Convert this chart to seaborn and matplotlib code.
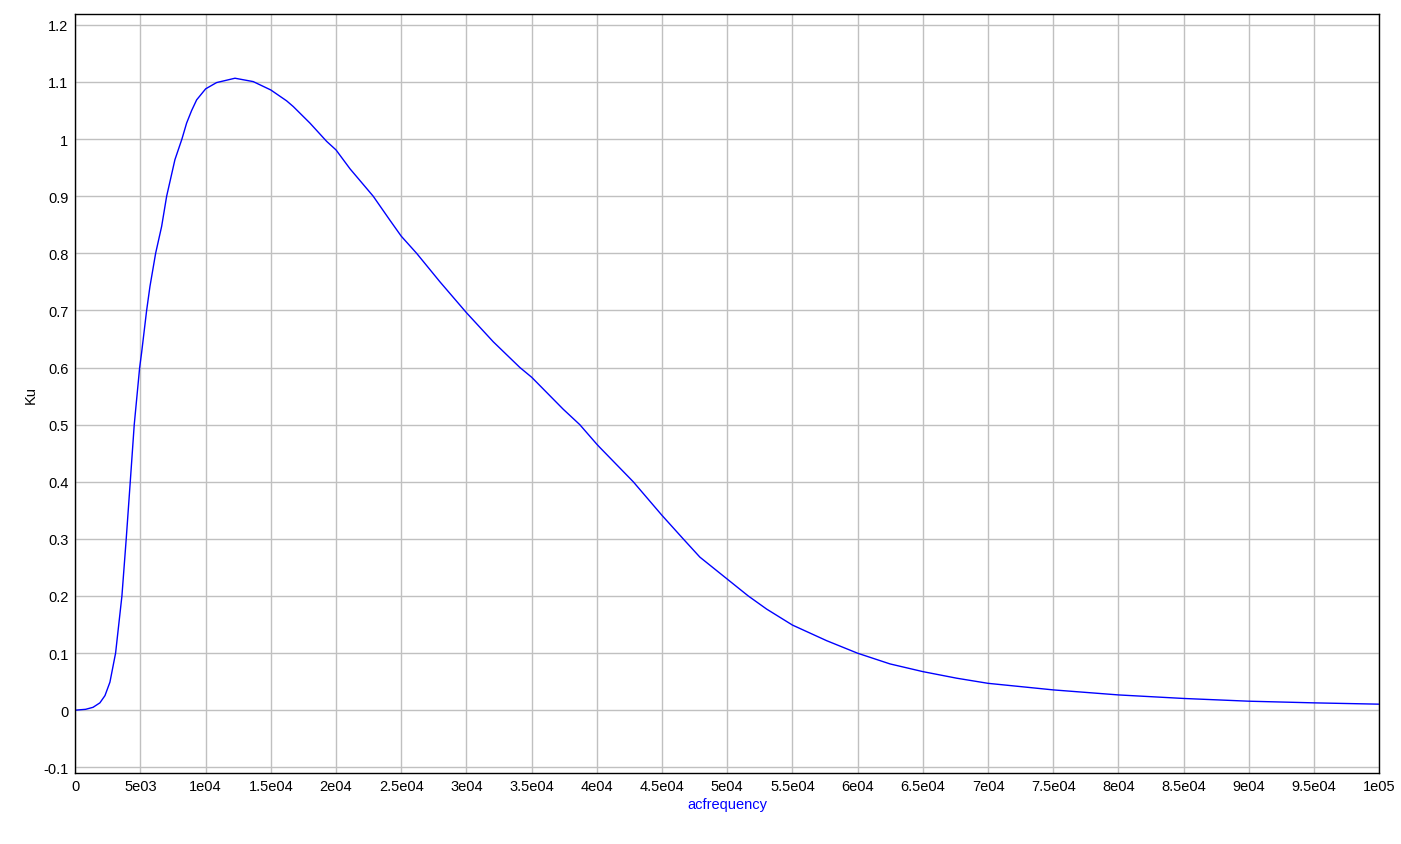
import numpy as np
import pandas as pd
import matplotlib
matplotlib.use('Agg')
import matplotlib.pyplot as plt
import seaborn as sns

# valores (acfrequency em Hz, Ku)
freq = [0, 800, 1365, 1890, 2280, 2660, 3095, 3580, 3910, 4220, 4525, 4940,
        5090, 5475, 5730, 6165, 6625, 7010, 7645, 8180, 8540, 8925, 9310,
        10000, 10840, 12250, 13650, 15000, 16210, 16720, 18000, 19280,
        20000, 21070, 22850, 24130, 25000, 26180, 27970, 30000, 32060,
        34100, 35000, 37420, 38690, 40000, 40240, 42790, 45000, 46620,
        47900, 50000, 51610, 53020, 55000, 57620, 60000, 62480, 65000,
        67590, 70000, 75000, 80000, 85000, 90000, 95000, 100000]
ku = [0.0, 0.0015, 0.005, 0.0128, 0.0255, 0.049, 0.1, 0.2, 0.3, 0.4, 0.5, 0.6,
      0.626, 0.7, 0.742, 0.8, 0.847, 0.9, 0.964, 1.0, 1.028, 1.05, 1.0687,
      1.088, 1.099, 1.1066, 1.1007, 1.086, 1.067, 1.057, 1.028, 0.996,
      0.981, 0.948, 0.9, 0.858, 0.83, 0.8, 0.750, 0.696, 0.645,
      0.6, 0.583, 0.527, 0.5, 0.4656, 0.4598, 0.4, 0.341, 0.3,
      0.268, 0.2295, 0.2, 0.177, 0.149, 0.1217, 0.0997, 0.081, 0.0675,
      0.056, 0.047, 0.0355, 0.0267, 0.0205, 0.0157, 0.0128, 0.0105]

xticks = np.arange(0, 100001, 5000)
xlabels = ['0', '5e03', '1e04', '1.5e04', '2e04', '2.5e04', '3e04', '3.5e04',
           '4e04', '4.5e04', '5e04', '5.5e04', '6e04', '6.5e04', '7e04',
           '7.5e04', '8e04', '8.5e04', '9e04', '9.5e04', '1e05']
yticks = [-0.1, 0, 0.1, 0.2, 0.3, 0.4, 0.5, 0.6, 0.7, 0.8, 0.9, 1.0, 1.1, 1.2]
ylabels = ['-0.1', '0', '0.1', '0.2', '0.3', '0.4', '0.5', '0.6', '0.7',
           '0.8', '0.9', '1', '1.1', '1.2']

df = pd.DataFrame({'acfrequency': freq, 'Ku': ku})

sns.set_style('white')
plt.rcParams['font.family'] = ['Liberation Sans', 'DejaVu Sans']

fig = plt.figure(figsize=(14.01, 8.45), dpi=100)
ax = fig.add_axes([0.0537, 0.0837, 0.9308, 0.8985])

sns.lineplot(data=df, x='acfrequency', y='Ku', color='#0000ff', linewidth=1,
             sort=False, ax=ax)

ax.set_xlim(0, 100000)
ax.set_ylim(-0.1105, 1.219)
ax.set_xticks(xticks)
ax.set_xticklabels(xlabels)
ax.set_yticks(yticks)
ax.set_yticklabels(ylabels)

ax.grid(True, color='#c0c0c0', linewidth=1)
ax.set_axisbelow(True)
for s in ax.spines.values():
    s.set_color('black')
    s.set_linewidth(1)
ax.tick_params(direction='in', length=4.5, width=1, color='black',
               labelsize=10.5, labelcolor='black')
ax.tick_params(axis='y', pad=5)
ax.tick_params(axis='x', pad=4)

ax.set_xlabel('acfrequency', color='#0000ff', fontsize=10.5, labelpad=3)
ax.set_ylabel('Ku', color='black', fontsize=10.5, labelpad=4)

fig.savefig('out.png', dpi=100)
